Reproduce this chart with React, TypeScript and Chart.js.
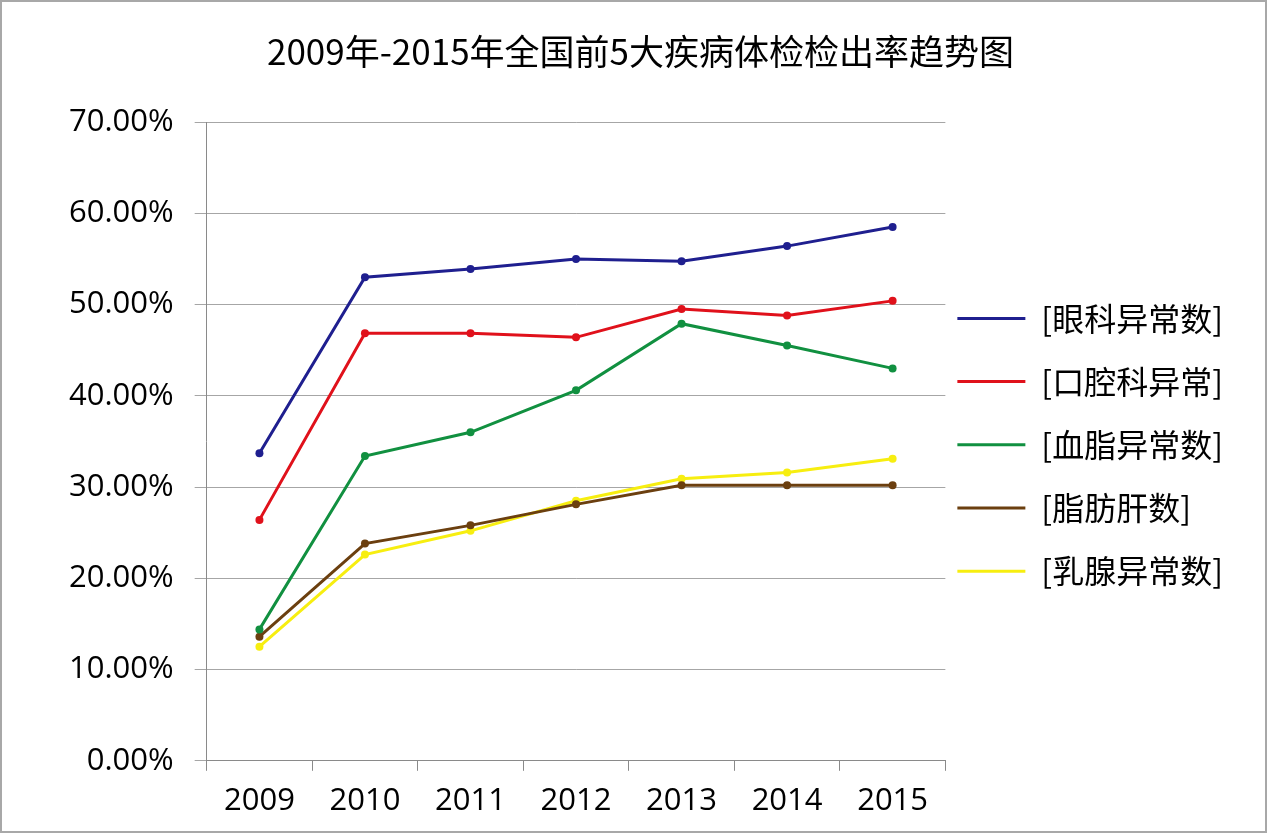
import React, { useEffect, useRef } from "react";
import { Chart, registerables } from "chart.js";

Chart.register(...registerables);

const years = ["2009", "2010", "2011", "2012", "2013", "2014", "2015"];
const seriesNames = ["[眼科异常数]", "[口腔科异常]", "[血脂异常数]", "[脂肪肝数]", "[乳腺异常数]"];
const seriesColors = ["#1f1f8f", "#e0111b", "#119040", "#6b3f0f", "#f7ee10"];
const eyeValues = [33.7, 53.0, 53.9, 55.0, 54.75, 56.4, 58.5];
const oralValues = [26.4, 46.85, 46.85, 46.4, 49.5, 48.8, 50.4];
const lipidValues = [14.4, 33.4, 36.0, 40.6, 47.9, 45.5, 43.0];
const fattyLiverValues = [13.6, 23.8, 25.8, 28.1, 30.2, 30.2, 30.2];
const breastValues = [12.5, 22.6, 25.2, 28.5, 30.9, 31.6, 33.1];
const allValues = [eyeValues, oralValues, lipidValues, fattyLiverValues, breastValues];

export default function App() {
  const ref = useRef<HTMLCanvasElement | null>(null);
  useEffect(() => {
    if (!ref.current) return;
    const chart = new Chart(ref.current, {
      type: "line",
      data: {
        labels: years,
        datasets: allValues.map((vals, i) => ({
          label: seriesNames[i],
          data: vals,
          borderColor: seriesColors[i],
          backgroundColor: seriesColors[i],
          borderWidth: 3,
          pointRadius: 4,
          pointBorderWidth: 0,
          pointBackgroundColor: seriesColors[i],
          tension: 0,
          fill: false,
        })),
      },
      options: {
        animation: false,
        responsive: false,
        layout: { padding: { left: 46, right: 32, top: 0, bottom: -1 } },
        plugins: {
          title: {
            display: true,
            text: "2009年-2015年全国前5大疾病体检检出率趋势图",
            color: "#000",
            font: { family: "'Noto Sans CJK SC'", size: 35, weight: "normal", lineHeight: 1.2 },
            padding: { top: 29, bottom: 49 },
          },
          legend: {
            position: "right",
            align: "center",
            fullSize: false,
            title: {
              display: true,
              text: "",
              font: { size: 10, lineHeight: 1 },
              padding: { top: 8, bottom: 8 },
            },
            labels: {
              color: "#000",
              font: { family: "'Noto Sans CJK SC'", size: 32, lineHeight: 1.6 },
              usePointStyle: true,
              pointStyle: "line",
              pointStyleWidth: 68,
              padding: 12,
              generateLabels: (c: any) => {
                const base = Chart.defaults.plugins.legend.labels.generateLabels(c);
                return base.map((it: any, i: number) => ({
                  ...it,
                  text: [it.text],
                  pointStyle: "line",
                  lineWidth: 3,
                  strokeStyle: seriesColors[i],
                  fillStyle: seriesColors[i],
                }));
              },
            },
          },
          tooltip: { enabled: false },
        },
        scales: {
          x: {
            offset: true,
            grid: {
              offset: true,
              drawOnChartArea: false,
              drawTicks: true,
              tickLength: 10,
              color: "#8a8a8a",
            },
            border: { color: "#8a8a8a", width: 1 },
            ticks: {
              color: "#000",
              font: { family: "'Open Sans'", size: 31 },
              padding: 12,
            },
          },
          y: {
            min: 0,
            max: 70,
            grid: { color: "#a6a6a6", tickLength: 12, drawTicks: true },
            border: { color: "#8a8a8a", width: 1 },
            ticks: {
              stepSize: 10,
              color: "#000",
              font: { family: "'Open Sans'", size: 31 },
              padding: 21,
              callback: (v: any) => Number(v).toFixed(2) + "%",
            },
          },
        },
      },
    });
    return () => chart.destroy();
  }, []);
  return (
    <div
      style={{
        position: "absolute",
        left: 0,
        top: 0,
        width: 1267,
        height: 833,
        boxSizing: "border-box",
        border: "2px solid #a8a8a8",
        background: "#fff",
      }}
    >
      <canvas ref={ref} width={1263} height={829} style={{ display: "block" }} />
    </div>
  );
}
